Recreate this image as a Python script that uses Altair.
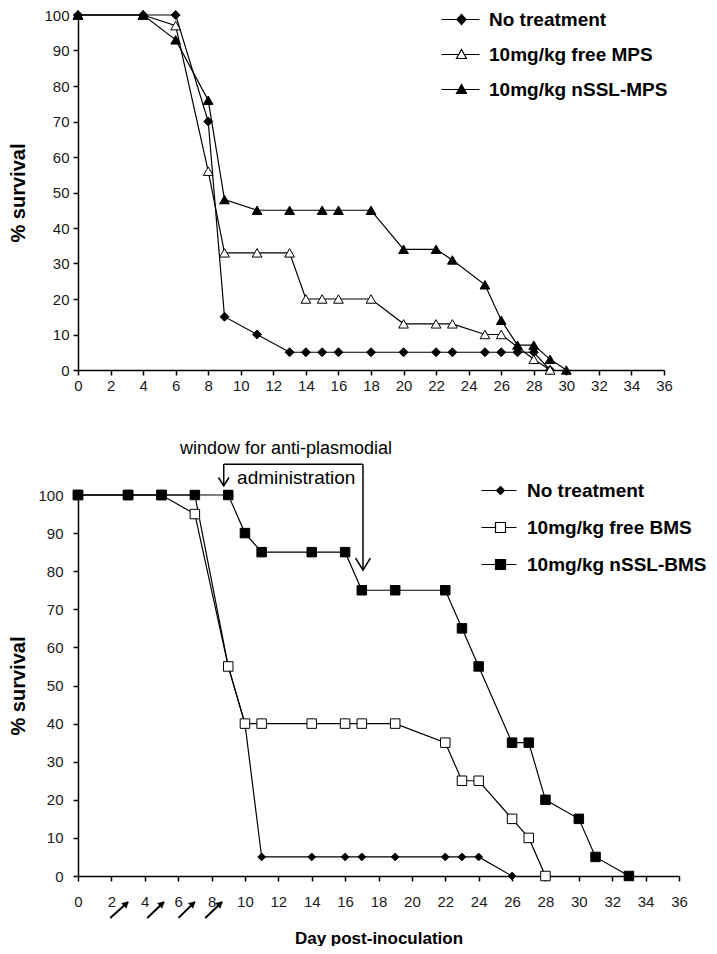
import altair as alt
import pandas as pd

FONT = "Liberation Sans"

# ---------------- data: top panel (MPS) ----------------
top_series = ["No treatment", "10mg/kg free MPS", "10mg/kg nSSL-MPS"]
top_none_day = [0, 4, 6, 8, 9, 11, 13, 14, 15, 16, 18, 20, 22, 23, 25, 26, 27, 28, 29]
top_none_surv = [100, 100, 100, 70, 15, 10, 5, 5, 5, 5, 5, 5, 5, 5, 5, 5, 5, 5, 0]
top_free_day = [0, 4, 6, 8, 9, 11, 13, 14, 15, 16, 18, 20, 22, 23, 25, 26, 28, 29]
top_free_surv = [100, 100, 97, 56, 33, 33, 33, 20, 20, 20, 20, 13, 13, 13, 10, 10, 3, 0]
top_nssl_day = [0, 4, 6, 8, 9, 11, 13, 15, 16, 18, 20, 22, 23, 25, 26, 27, 28, 29, 30]
top_nssl_surv = [100, 100, 93, 76, 48, 45, 45, 45, 45, 45, 34, 34, 31, 24, 14, 7, 7, 3, 0]

# ---------------- data: bottom panel (BMS) ----------------
bot_series = ["No treatment", "10mg/kg free BMS", "10mg/kg nSSL-BMS"]
bot_none_day = [0, 3, 5, 7, 9, 10, 11, 14, 16, 17, 19, 22, 23, 24, 26]
bot_none_surv = [100, 100, 100, 100, 55, 40, 5, 5, 5, 5, 5, 5, 5, 5, 0]
bot_free_day = [0, 3, 5, 7, 9, 10, 11, 14, 16, 17, 19, 22, 23, 24, 26, 27, 28]
bot_free_surv = [100, 100, 100, 95, 55, 40, 40, 40, 40, 40, 40, 35, 25, 25, 15, 10, 0]
bot_nssl_day = [0, 3, 5, 7, 9, 10, 11, 14, 16, 17, 19, 22, 23, 24, 26, 27, 28, 30, 31, 33]
bot_nssl_surv = [100, 100, 100, 100, 100, 90, 85, 85, 85, 75, 75, 75, 65, 55, 35, 35, 20, 15, 5, 0]

x_ticks = list(range(0, 37, 2))
y_ticks = list(range(0, 101, 10))

# annotation texts
window_text = "window for anti-plasmodial"
admin_text = "administration"
dose_tip_days = [3.0, 5.15, 7.0, 8.63]
dose_tail_days = [1.93, 4.15, 6.02, 7.62]


def long_df(days, survs, names):
    rows = []
    for name, ds, ss in zip(names, days, survs):
        for d, s in zip(ds, ss):
            rows.append({"day": d, "surv": s, "series": name})
    return pd.DataFrame(rows)


top_df = long_df([top_none_day, top_free_day, top_nssl_day],
                 [top_none_surv, top_free_surv, top_nssl_surv], top_series)
bot_df = long_df([bot_none_day, bot_free_day, bot_nssl_day],
                 [bot_none_surv, bot_free_surv, bot_nssl_surv], bot_series)

XSCALE = alt.Scale(domain=[0, 36], nice=False, zero=False)
YSCALE = alt.Scale(domain=[0, 100], nice=False, zero=False)


def x_axis(label_padding, title_padding):
    return alt.Axis(values=x_ticks, labelFlush=False, labelOverlap=False,
                    labelPadding=label_padding, tickSize=5, grid=False,
                    titleFontSize=17, titleFontWeight="bold",
                    titlePadding=title_padding, titleFont=FONT)


def y_axis(label_padding, title_padding):
    return alt.Axis(values=y_ticks, labelFlush=False, labelOverlap=False,
                    labelPadding=label_padding, tickSize=5, grid=False,
                    titleFontSize=20, titleFontWeight="bold",
                    titlePadding=title_padding, titleFont=FONT)


def panel(df, series, shapes, fills, sizes, legend_paths, xtitle, xlab_pad, xtitle_pad,
          ylab_pad, ytitle_pad, legend_x, legend_y, legend_row_pad, label_off):
    X = alt.X("day:Q", title=xtitle, scale=XSCALE, axis=x_axis(xlab_pad, xtitle_pad))
    Y = alt.Y("surv:Q", title="% survival", scale=YSCALE, axis=y_axis(ylab_pad, ytitle_pad))
    base = alt.Chart(df)
    layers = [base.mark_line(color="black", strokeWidth=1.2).encode(
        x=X, y=Y, detail="series:N")]
    for name, shp, fl, sz in zip(series, shapes, fills, sizes):
        layers.append(
            base.transform_filter(alt.datum.series == name)
            .mark_point(shape=shp, filled=True, fill=fl, stroke="black",
                        strokeWidth=1, size=sz, opacity=1)
            .encode(x=X, y=Y))
    leg = alt.Legend(title=None, orient="none", legendX=legend_x, legendY=legend_y,
                     labelFont=FONT, labelFontSize=19, labelFontWeight="bold",
                     labelColor="black", labelOffset=label_off,
                     rowPadding=legend_row_pad, symbolSize=100,
                     symbolStrokeWidth=1.2, symbolOpacity=1, padding=0, labelLimit=400)
    layers.append(
        base.transform_filter("false")
        .mark_point(filled=True, size=100, strokeWidth=1.2, opacity=1)
        .encode(
            x=X, y=Y,
            shape=alt.Shape("series:N", scale=alt.Scale(domain=series, range=legend_paths), legend=leg),
            fill=alt.Fill("series:N", scale=alt.Scale(domain=series, range=fills), legend=leg),
            stroke=alt.Stroke("series:N", scale=alt.Scale(domain=series, range=["black"] * 3), legend=leg),
        ))
    return layers, X, Y


# legend symbols: line + marker, drawn as custom paths
diamond_leg = "M-6.6,0L-3.5,0M-1.7,0L1,0M-2.6,-1L-1.7,0L-2.6,1L-3.5,0Z"
tri_leg = "M-6.6,0L-3.16,0M-2.04,0L1,0M-2.6,-1L-1.6,0.8L-3.6,0.8Z"
diamond_leg_b = "M-6,0L-3.0,0M-1.4,0L1,0M-2.2,-0.8L-1.4,0L-2.2,0.8L-3.0,0Z"
square_leg = "M-6,0L-3.2,0M-1.2,0L1,0M-3.2,-1L-1.2,-1L-1.2,1L-3.2,1Z"

top_layers, _, _ = panel(
    top_df, top_series, ["diamond", "triangle-up", "triangle-up"],
    ["black", "white", "black"], [80, 95, 95],
    [diamond_leg, tri_leg, tri_leg], None, 3, 15, 4, 15,
    387, -5, 15, 5)
top = alt.layer(*top_layers).properties(width=586, height=355)

bot_layers, XB, YB = panel(
    bot_df, bot_series, ["diamond", "square", "square"],
    ["black", "white", "black"], [60, 90, 90],
    [diamond_leg_b, square_leg, square_leg], "Day post-inoculation", 13, 21, 10, 9,
    424, -14, 17, 6)

# bracket for the administration window
bracket_df = pd.DataFrame({
    "day": [8.73, 8.73, 17.07], "day2": [17.07, 8.73, 17.07],
    "surv": [108.1, 108.1, 108.1], "surv2": [108.1, 102.4, 80.3]})
bot_layers.append(alt.Chart(bracket_df).mark_rule(color="black", strokeWidth=1.5).encode(
    x=XB, x2="day2:Q", y=YB, y2="surv2:Q"))
heads_df = pd.DataFrame({"day": [8.73, 17.07], "surv": [102.4, 80.3], "sz": [110, 220]})
bot_layers.append(alt.Chart(heads_df).mark_point(
    shape="M-1,-1.6L0,0L1,-1.6", filled=False, stroke="black", strokeWidth=1.6, opacity=1
).encode(x=XB, y=YB, size=alt.Size("sz:Q", scale=None, legend=None)))
text_df = pd.DataFrame({"day": [12.46], "surv": [112.1], "t": [window_text]})
bot_layers.append(alt.Chart(text_df).mark_text(
    font=FONT, fontSize=18, color="black", align="center", baseline="middle"
).encode(x=XB, y=YB, text="t:N"))
text2_df = pd.DataFrame({"day": [9.53], "surv": [104.5], "t": [admin_text]})
bot_layers.append(alt.Chart(text2_df).mark_text(
    font=FONT, fontSize=19, color="black", align="left", baseline="middle"
).encode(x=XB, y=YB, text="t:N"))

# dosing arrows below the x axis
dose_df = pd.DataFrame({"day": dose_tail_days, "day2": dose_tip_days,
                        "surv": [-11.0] * 4, "surv2": [-6.8] * 4})
bot_layers.append(alt.Chart(dose_df).mark_rule(color="black", strokeWidth=2).encode(
    x=XB, x2="day2:Q", y=YB, y2="surv2:Q"))
dose_head_df = pd.DataFrame({"day": [d - 0.12 for d in dose_tip_days],
                             "surv": [-7.3] * 4})
bot_layers.append(alt.Chart(dose_head_df).mark_point(
    shape="triangle-up", filled=True, fill="black", stroke="black", strokeWidth=0.5,
    size=45, angle=47, opacity=1).encode(x=XB, y=YB))

bottom = alt.layer(*bot_layers).properties(width=601, height=381)

chart = alt.concat(top, bottom, columns=1, spacing=46).resolve_scale(
    shape="independent", fill="independent", stroke="independent"
).properties(
    padding={"left": 0, "top": 0, "right": 2, "bottom": 0}
).configure_view(stroke=None).configure_axis(
    domainColor="black", domainWidth=1.5, tickColor="black", tickWidth=1.5,
    labelFont=FONT, labelFontSize=15, labelColor="#1a1a1a", titleColor="black"
)

chart.save("out.html", embed_options={"renderer": "svg", "actions": False})
